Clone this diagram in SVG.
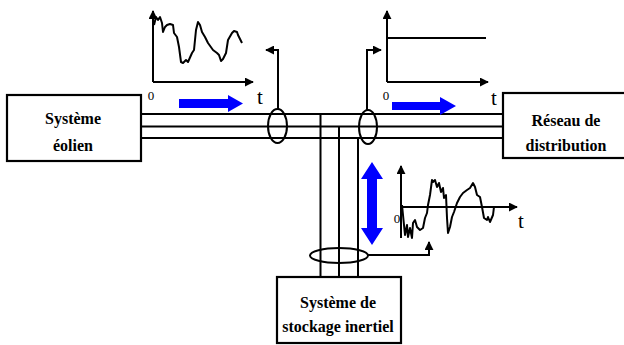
<svg xmlns="http://www.w3.org/2000/svg" width="624" height="345" viewBox="0 0 624 345">
<defs>
<style>
.box{fill:#fff;stroke:#000;stroke-width:2.2}
.ln{fill:none;stroke:#000;stroke-width:2}
.wave{fill:none;stroke:#000;stroke-width:2;stroke-linejoin:round}
.blue{fill:#0000ff}
</style>
<marker id="ah" viewBox="0 0 10 10" refX="9" refY="5" markerWidth="4.5" markerHeight="4.5" orient="auto" markerUnits="strokeWidth">
<path d="M0,0 L10,5 L0,10 z" fill="#000"/>
</marker>
</defs>
<rect width="624" height="345" fill="#fff"/>

<g id="connectors">
<path class="ln" d="M141,114 H503 M141,126.5 H503 M141,138 H503"/>
<path class="ln" d="M320.5,114 V277 M339,126.5 V277 M358,138 V277"/>
<ellipse class="ln" cx="277.5" cy="126" rx="9.5" ry="17"/>
<ellipse class="ln" cx="368" cy="127" rx="9" ry="17"/>
<ellipse class="ln" cx="339" cy="255.5" rx="29" ry="7.5"/>
<path class="ln" d="M278,109 V50 H266" marker-end="url(#ah)"/>
<path class="ln" d="M367,110 V50 H381" marker-end="url(#ah)"/>
<path class="ln" d="M368,255 H429 V242" marker-end="url(#ah)"/>
</g>

<g font-family="Liberation Serif, Times New Roman, serif" font-weight="bold" font-size="16" fill="#000" text-anchor="middle">
<g id="eolien">
<rect class="box" x="7" y="95" width="134" height="66"/>
<text x="73" y="124">Système</text>
<text x="73" y="151">éolien</text>
</g>

<g id="reseau">
<rect class="box" x="503" y="93" width="140" height="65"/>
<text x="566" y="126">Réseau de</text>
<text x="566" y="151">distribution</text>
</g>

<g id="stockage">
<rect class="box" x="277" y="277" width="124" height="66"/>
<text x="338" y="308">Système de</text>
<text x="338" y="332">stockage inertiel</text>
</g>
</g>

<g font-family="Liberation Serif, Times New Roman, serif" font-weight="normal" fill="#000" text-anchor="middle">
<g id="graph-eolien">
<path class="ln" d="M153,82 V11" marker-end="url(#ah)"/>
<path class="ln" d="M153,82 H253" marker-end="url(#ah)"/>
<polyline class="wave" points="154,25 156,17 158,20 160,17 162,23 163,32 165,27 167,25 170,24 173,25 174,33 177,37 179,47 181,62 183,63 186,60 188,62 192,53 194,50 196,30 198,22 200,25 202,32 205,37 208,43 213,50 217,53 219,55 221,61 223,59 226,53 228,40 232,33 234,31 237,32 238,35 242,43"/>
<text x="151" y="100" font-size="13">0</text>
<text x="260" y="104" font-size="21">t</text>
<polygon class="blue" points="179,99 228,99 228,95 243,103.5 228,112 228,108 179,108"/>
</g>

<g id="graph-reseau">
<path class="ln" d="M387,82 V11" marker-end="url(#ah)"/>
<path class="ln" d="M387,82 H488" marker-end="url(#ah)"/>
<path class="ln" d="M387,38 H486"/>
<text x="386" y="100" font-size="13">0</text>
<text x="494" y="105" font-size="21">t</text>
<polygon class="blue" points="392,102 440,102 440,97 456,106 440,115 440,110 392,110"/>
</g>

<g id="graph-stockage">
<path class="ln" d="M401,238 V166" marker-end="url(#ah)"/>
<path class="ln" d="M401,207 H517" marker-end="url(#ah)"/>
<text x="397" y="223" font-size="13">0</text>
<text x="521" y="228" font-size="21">t</text>
<polyline class="wave" points="402,205 403,215 405,235 407,225 408,237 410,228 412,238 413,223 415,220 417,227 420,230 423,228 425,218 427,213 428,205 430,195 432,180 433,182 435,180 437,187 439,183 441,192 443,188 444,198 446,195 447,218 448,233 450,227 452,217 454,212 457,203 460,197 463,193 467,190 470,188 473,183 475,187 477,195 480,197 482,207 484,218 487,220 488,217 490,222 493,215 494,207"/>
<polygon class="blue" points="372,162 383,179 377,179 377,228 383,228 372,245 361,228 367,228 367,179 361,179"/>
</g>
</g>
</svg>
